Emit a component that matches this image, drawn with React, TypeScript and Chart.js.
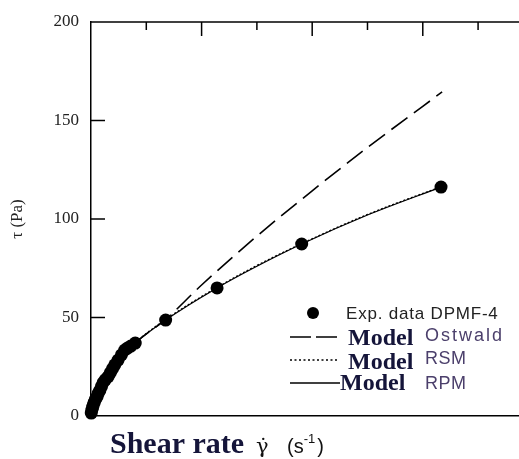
import React, { useEffect, useRef } from "react";
import { Chart, registerables } from "chart.js";

Chart.register(...registerables);

// Experimental data DPMF-4 (shear rate s^-1, stress Pa)
const expShear = [0.5, 1.5, 3, 4, 6, 8, 11, 13, 16, 19, 22, 26, 31, 35, 39, 43, 49, 55, 61, 66, 72, 80, 135, 228, 381, 633];
const expStress = [1.5, 3, 4.5, 5.6, 7, 8.5, 9.8, 11.5, 13, 15, 17, 18.5, 20, 22, 24, 26, 28.4, 31, 33.5, 34.5, 35.5, 37, 48.7, 65, 87.3, 116.2];

// Model Ostwald
const ostShear = [0, 10, 25, 50, 80, 135, 200, 300, 400, 500, 600, 635];
const ostStress = [0, 9, 17, 27, 37, 49, 66.5, 91.3, 114.3, 136.3, 157.2, 164.5];

// Model RSM
const rsmShear = [0, 5, 15, 30, 50, 80, 135, 228, 300, 381, 500, 633];
const rsmStress = [0, 7.3, 12.8, 20.3, 28.8, 37.3, 49, 65.3, 76.4, 87.5, 102.3, 116.4];

// Model RPM
const rpmShear = [0, 5, 15, 30, 50, 80, 135, 228, 300, 381, 500, 633];
const rpmStress = [0, 7, 12.5, 20, 28.5, 37, 48.7, 65, 76, 87.3, 102, 116.2];

const xTopTicks = [100, 200, 300, 400, 500, 600, 700];
const xMajorTopTicks = [200, 400, 600];
const yInnerTicks = [50, 100, 150];

const toPts = (xs: number[], ys: number[]) => xs.map((x, i) => ({ x, y: ys[i] }));

const decorPlugin = {
  id: "decor",
  afterDraw(chart: any) {
    const { ctx, chartArea } = chart;
    const xs = chart.scales.x;
    const ys = chart.scales.y;
    ctx.save();
    ctx.strokeStyle = "#000";
    ctx.lineWidth = 1.5;
    // top border
    ctx.beginPath();
    ctx.moveTo(chartArea.left, chartArea.top);
    ctx.lineTo(chartArea.right, chartArea.top);
    ctx.stroke();
    // top ticks
    xTopTicks.forEach((v) => {
      const px = xs.getPixelForValue(v);
      const len = xMajorTopTicks.includes(v) ? 14 : 8;
      ctx.beginPath();
      ctx.moveTo(px, chartArea.top);
      ctx.lineTo(px, chartArea.top + len);
      ctx.stroke();
    });
    // inward y ticks
    yInnerTicks.forEach((v) => {
      const py = ys.getPixelForValue(v);
      ctx.beginPath();
      ctx.moveTo(chartArea.left, py);
      ctx.lineTo(chartArea.left + 14, py);
      ctx.stroke();
    });

    // Legend
    ctx.fillStyle = "#000";
    ctx.beginPath();
    ctx.arc(313, 313, 6, 0, Math.PI * 2);
    ctx.fill();
    ctx.textBaseline = "alphabetic";
    ctx.textAlign = "left";
    (ctx as any).letterSpacing = "0.8px";
    ctx.fillStyle = "#222";
    ctx.font = '17px "Liberation Sans", Arial, sans-serif';
    ctx.fillText("Exp. data DPMF-4", 346, 319);

    const rows = [
      { y: 337, dash: [21, 5], end: 337, mx: 348, mb: 345, name: "Ostwald", nb: 341, ls: "2px" },
      { y: 360, dash: [2, 2.5], end: 337, mx: 348, mb: 369, name: "RSM", nb: 364, ls: "0.5px" },
      { y: 383, dash: [], end: 340, mx: 340, mb: 390, name: "RPM", nb: 389, ls: "0.5px" },
    ];
    rows.forEach((r) => {
      ctx.strokeStyle = "#000";
      ctx.lineWidth = 1.5;
      ctx.setLineDash(r.dash);
      ctx.beginPath();
      ctx.moveTo(290, r.y);
      ctx.lineTo(r.end, r.y);
      ctx.stroke();
      ctx.setLineDash([]);
      (ctx as any).letterSpacing = "0px";
      ctx.fillStyle = "#15153a";
      ctx.font = 'bold 24px "Liberation Serif", "Times New Roman", serif';
      ctx.fillText("Model", r.mx, r.mb);
      (ctx as any).letterSpacing = r.ls;
      ctx.fillStyle = "#4b3f6b";
      ctx.font = '18px "Liberation Sans", Arial, sans-serif';
      ctx.fillText(r.name, 425, r.nb);
    });

    // X axis title
    (ctx as any).letterSpacing = "0px";
    ctx.fillStyle = "#15153a";
    ctx.font = 'bold 30px "Liberation Serif", "Times New Roman", serif';
    ctx.fillText("Shear rate", 110, 453);
    ctx.fillStyle = "#111";
    ctx.font = '21px "DejaVu Serif", serif';
    ctx.fillText("\u03B3\u0307", 256, 453);
    ctx.font = '20px "Liberation Sans", Arial, sans-serif';
    ctx.fillText("(s", 287, 453);
    const w1 = ctx.measureText("(s").width;
    ctx.font = '13px "Liberation Sans", Arial, sans-serif';
    ctx.fillText("-1", 287 + w1, 443);
    const w2 = ctx.measureText("-1").width;
    ctx.font = '20px "Liberation Sans", Arial, sans-serif';
    ctx.fillText(")", 287 + w1 + w2 + 2, 453);
    ctx.restore();
  },
};

export default function App() {
  const ref = useRef<HTMLCanvasElement>(null);
  useEffect(() => {
    if (!ref.current) return;
    const chart = new Chart(ref.current, {
      type: "line",
      data: {
        datasets: [
          {
            label: "Exp. data DPMF-4",
            data: toPts(expShear, expStress),
            showLine: false,
            pointRadius: 6.5,
            pointBackgroundColor: "#000",
            pointBorderColor: "#000",
            pointBorderWidth: 0,
            clip: false as any,
          },
          {
            label: "Model Ostwald",
            data: toPts(ostShear, ostStress),
            borderColor: "#000",
            borderWidth: 1.6,
            borderDash: [20, 8],
            pointRadius: 0,
            cubicInterpolationMode: "monotone",
          },
          {
            label: "Model RSM",
            data: toPts(rsmShear, rsmStress),
            borderColor: "#000",
            borderWidth: 1.3,
            borderDash: [2, 2],
            pointRadius: 0,
            cubicInterpolationMode: "monotone",
          },
          {
            label: "Model RPM",
            data: toPts(rpmShear, rpmStress),
            borderColor: "#000",
            borderWidth: 1.2,
            pointRadius: 0,
            cubicInterpolationMode: "monotone",
          },
        ],
      },
      options: {
        animation: false,
        responsive: true,
        maintainAspectRatio: false,
        layout: { autoPadding: false, padding: { top: 22, right: 0, bottom: 0, left: 0 } },
        plugins: { legend: { display: false }, tooltip: { enabled: false } },
        scales: {
          x: {
            type: "linear",
            min: 0,
            max: 774,
            ticks: { display: false, stepSize: 100 },
            grid: { display: false },
            border: { display: true, color: "#000", width: 1.5 },
            afterFit: (s: any) => {
              s.height = 43;
            },
          },
          y: {
            type: "linear",
            min: 0,
            max: 200,
            ticks: {
              stepSize: 50,
              color: "#222",
              padding: 4,
              font: { family: '"Liberation Serif", "Times New Roman", serif', size: 17 },
            },
            grid: { display: false },
            border: { display: true, color: "#000", width: 1.5 },
            title: {
              display: true,
              text: "\u03C4 (Pa)",
              color: "#222",
              font: { family: '"Liberation Serif", "Times New Roman", serif', size: 17 },
              padding: { top: 7, bottom: 0 },
            },
            afterFit: (s: any) => {
              s.width = 91;
            },
          },
        },
      },
      plugins: [decorPlugin],
    });
    return () => chart.destroy();
  }, []);
  return (
    <div style={{ position: "fixed", left: 0, top: 0, width: 519, height: 459, background: "#fff" }}>
      <canvas ref={ref} />
    </div>
  );
}
